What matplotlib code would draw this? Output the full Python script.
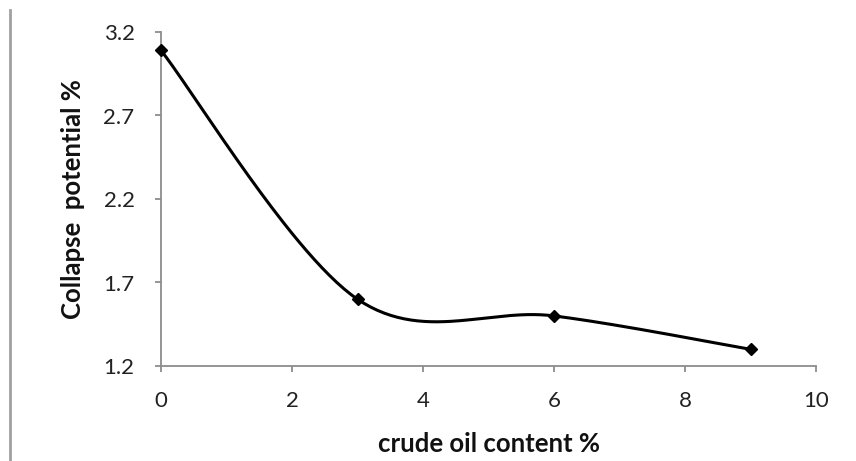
import numpy as np
import matplotlib
matplotlib.use("Agg")
import matplotlib.pyplot as plt
from matplotlib.lines import Line2D

oil_content = [0, 3, 6, 9]
collapse_potential = [3.09, 1.60, 1.50, 1.30]
x_ticks = [0, 2, 4, 6, 8, 10]
y_ticks = [1.2, 1.7, 2.2, 2.7, 3.2]

plt.rcParams['font.family'] = ['Lato', 'DejaVu Sans']

def excel_smooth(xs, ys, n=60):
    P = np.column_stack([xs, ys]).astype(float)
    m = len(P)
    out = []
    for i in range(m - 1):
        p0 = P[i - 1] if i > 0 else P[i]
        p1 = P[i]
        p2 = P[i + 1]
        p3 = P[i + 2] if i + 2 < m else P[i + 1]
        c1 = p1 + (p2 - p0) / 6.0
        c2 = p2 - (p3 - p1) / 6.0
        t = np.linspace(0, 1, n)[:, None]
        seg = ((1 - t) ** 3) * p1 + 3 * ((1 - t) ** 2) * t * c1 + 3 * (1 - t) * t ** 2 * c2 + t ** 3 * p2
        out.append(seg if i == 0 else seg[1:])
    S = np.vstack(out)
    return S[:, 0], S[:, 1]

fig = plt.figure(figsize=(8.56, 4.61), dpi=100)
ax = fig.add_axes([161/856, 1 - 366/461, (816-161)/856, (366-32)/461])

sx, sy = excel_smooth(oil_content, collapse_potential)
ax.plot(sx, sy, color='black', lw=2.2, clip_on=False, zorder=3)
ax.plot(oil_content, collapse_potential, linestyle='none', marker='D', ms=6,
        color='black', clip_on=False, zorder=4)

ax.set_xlim(0, 10)
ax.set_ylim(1.2, 3.2)
ax.set_xticks(x_ticks)
ax.set_yticks(y_ticks)
ax.set_xticklabels([str(v) for v in x_ticks])
ax.set_yticklabels([f"{v:.1f}" for v in y_ticks])

gray = '#8c8c8c'
for s in ['top', 'right']:
    ax.spines[s].set_visible(False)
for s in ['left', 'bottom']:
    ax.spines[s].set_color(gray)
    ax.spines[s].set_linewidth(1.3)
ax.tick_params(axis='both', colors=gray, length=4, width=1.3, labelcolor='#222222',
               labelsize=16, direction='out')
ax.tick_params(axis='x', pad=14)
ax.tick_params(axis='y', pad=15)

ax.set_xlabel('crude oil content %', fontsize=18.5, fontweight='bold', labelpad=15, color='#111111')
ax.set_ylabel('Collapse  potential %', fontsize=18.5, fontweight='bold', labelpad=13, color='#111111')

fig.add_artist(Line2D([10/856, 10/856], [0, 1 - 10/461], transform=fig.transFigure,
                      color='#a0a0a0', lw=2))

fig.savefig('out.png', dpi=100)
